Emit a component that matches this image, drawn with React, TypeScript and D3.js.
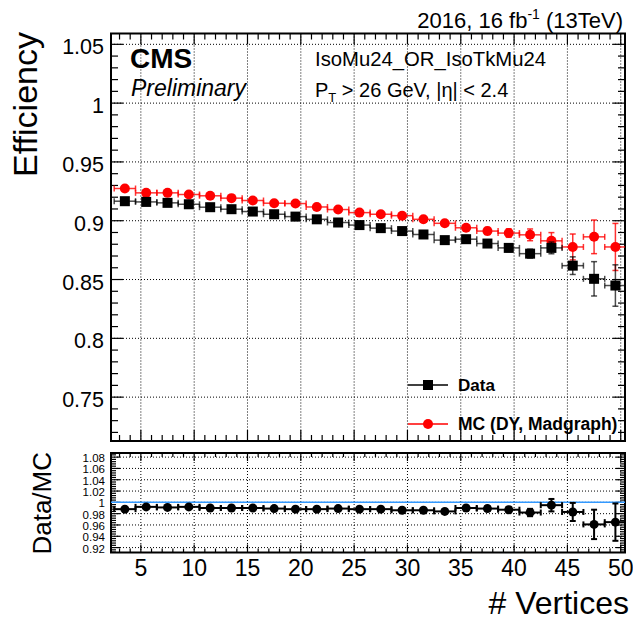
import React from 'react';
import * as d3 from 'd3';

// Number of reconstructed vertices (bin centres, bins are 2 wide)
const vertices = [3.5, 5.5, 7.5, 9.5, 11.5, 13.5, 15.5, 17.5, 19.5, 21.5, 23.5, 25.5,
  27.5, 29.5, 31.5, 33.5, 35.5, 37.5, 39.5, 41.5, 43.5, 45.5, 47.5, 49.5];
const binHalfWidth = 1;

// Trigger efficiency measured in data
const dataEff = [0.9166, 0.9160, 0.9152, 0.9140, 0.9115, 0.9098, 0.9078, 0.9055, 0.9035, 0.9012,
  0.8985, 0.8963, 0.8937, 0.8912, 0.8883, 0.8835, 0.8843, 0.8806, 0.8769, 0.8720,
  0.8769, 0.8618, 0.8506, 0.8449];
const dataErr = [0.0012, 0.0010, 0.0010, 0.0010, 0.0010, 0.0010, 0.0010, 0.0011, 0.0012, 0.0013,
  0.0014, 0.0015, 0.0016, 0.0018, 0.0020, 0.0022, 0.0025, 0.0028, 0.0032, 0.0038,
  0.0050, 0.0075, 0.0146, 0.0176];

// Trigger efficiency in simulation (DY, Madgraph)
const mcEff = [0.9274, 0.9237, 0.9237, 0.9223, 0.9212, 0.9192, 0.9172, 0.9149, 0.9146, 0.9117,
  0.9095, 0.9069, 0.9055, 0.9043, 0.9012, 0.8978, 0.8940, 0.8912, 0.8895, 0.8880,
  0.8829, 0.8777, 0.8863, 0.8777];
const mcErr = [0.0010, 0.0008, 0.0008, 0.0008, 0.0008, 0.0008, 0.0008, 0.0009, 0.0010, 0.0011,
  0.0012, 0.0013, 0.0015, 0.0017, 0.0019, 0.0022, 0.0026, 0.0030, 0.0036, 0.0050,
  0.0070, 0.0110, 0.0143, 0.0200];

// Data / MC ratio
const ratio = [0.988, 0.992, 0.991, 0.992, 0.990, 0.990, 0.990, 0.989, 0.988, 0.988,
  0.989, 0.988, 0.988, 0.986, 0.986, 0.984, 0.990, 0.989, 0.987, 0.982,
  0.995, 0.983, 0.961, 0.965];
const ratioErr = [0.0016, 0.0014, 0.0014, 0.0014, 0.0014, 0.0014, 0.0014, 0.0015, 0.0016, 0.0018,
  0.0019, 0.0021, 0.0023, 0.0026, 0.0029, 0.0033, 0.0038, 0.0043, 0.0050, 0.0065,
  0.0110, 0.0160, 0.0260, 0.0330];

const xTicks = [5, 10, 15, 20, 25, 30, 35, 40, 45, 50];
const effTicks = [0.75, 0.8, 0.85, 0.9, 0.95, 1, 1.05];
const effTickLabels = ['0.75', '0.8', '0.85', '0.9', '0.95', '1', '1.05'];
const ratioTicks = [0.92, 0.94, 0.96, 0.98, 1, 1.02, 1.04, 1.06, 1.08];
const ratioTickLabels = ['0.92', '0.94', '0.96', '0.98', '1', '1.02', '1.04', '1.06', '1.08'];

const FONT = "'Liberation Sans', Arial, Helvetica, sans-serif";
const RED = '#ff0000';
const BLUE = '#3399ff';

const W = 633;
const H = 622;
const left = 111;
const right = 625;
const mainTop = 33.5;
const mainBottom = 441;
const ratioTop = 453;
const ratioBottom = 552.5;

const x = d3.scaleLinear().domain([2.2, 50.4]).range([left, right]);
const yMain = d3.scaleLinear().domain([0.7127, 1.0592]).range([mainBottom, mainTop]);
const yRatio = d3.scaleLinear().domain([0.9113, 1.0873]).range([ratioBottom, ratioTop]);

const minorX = d3.range(3, 51, 1).filter((v) => v % 5 !== 0);

type Scale = d3.ScaleLinear<number, number>;

function Frame({ top, bottom, y, majors, minorStep, majLen, minLen, xMaj, xMin }: {
  top: number; bottom: number; y: Scale; majors: number[]; minorStep: number;
  majLen: number; minLen: number; xMaj: number; xMin: number;
}) {
  const [d0, d1] = y.domain();
  const minors = d3.range(Math.ceil(d0 / minorStep) * minorStep, d1, minorStep)
    .filter((v) => !majors.some((m) => Math.abs(m - v) < minorStep / 10));
  return (
    <g>
      {/* grid */}
      {xTicks.map((t) => (
        <line key={'gx' + t} x1={x(t)} x2={x(t)} y1={top} y2={bottom}
          stroke="#000" strokeWidth={1} strokeDasharray="1,2" />
      ))}
      {majors.map((t) => (
        <line key={'gy' + t} x1={left} x2={right} y1={y(t)} y2={y(t)}
          stroke="#000" strokeWidth={1} strokeDasharray="1,2" />
      ))}
      {/* y ticks, left and right */}
      {majors.map((t) => (
        <g key={'ty' + t}>
          <line x1={left} x2={left + majLen} y1={y(t)} y2={y(t)} stroke="#000" strokeWidth={1.2} />
          <line x1={right} x2={right - majLen} y1={y(t)} y2={y(t)} stroke="#000" strokeWidth={1.2} />
        </g>
      ))}
      {minors.map((t, i) => (
        <g key={'tyn' + i}>
          <line x1={left} x2={left + minLen} y1={y(t)} y2={y(t)} stroke="#000" strokeWidth={1.2} />
          <line x1={right} x2={right - minLen} y1={y(t)} y2={y(t)} stroke="#000" strokeWidth={1.2} />
        </g>
      ))}
      {/* x ticks, bottom and top */}
      {xTicks.map((t) => (
        <g key={'tx' + t}>
          <line x1={x(t)} x2={x(t)} y1={bottom} y2={bottom - xMaj} stroke="#000" strokeWidth={1.2} />
          <line x1={x(t)} x2={x(t)} y1={top} y2={top + xMaj} stroke="#000" strokeWidth={1.2} />
        </g>
      ))}
      {minorX.map((t) => (
        <g key={'txn' + t}>
          <line x1={x(t)} x2={x(t)} y1={bottom} y2={bottom - xMin} stroke="#000" strokeWidth={1.2} />
          <line x1={x(t)} x2={x(t)} y1={top} y2={top + xMin} stroke="#000" strokeWidth={1.2} />
        </g>
      ))}
      <rect x={left} y={top} width={right - left} height={bottom - top}
        fill="none" stroke="#000" strokeWidth={2} />
    </g>
  );
}

function ErrorBars({ values, errs, y, color, opacity, width, cap }: {
  values: number[]; errs: number[]; y: Scale; color: string; opacity: number; width: number; cap: number;
}) {
  return (
    <g stroke={color} strokeOpacity={opacity} strokeWidth={width} fill="none">
      {vertices.map((v, i) => {
        const cx = x(v);
        const cy = y(values[i]);
        const x0 = x(v - binHalfWidth);
        const x1 = Math.min(x(v + binHalfWidth), right);
        const yHi = y(values[i] + errs[i]);
        const yLo = y(values[i] - errs[i]);
        return (
          <g key={i}>
            <line x1={x0} x2={x1} y1={cy} y2={cy} />
            <line x1={x0} x2={x0} y1={cy - cap} y2={cy + cap} />
            {x(v + binHalfWidth) <= right && <line x1={x1} x2={x1} y1={cy - cap} y2={cy + cap} />}
            <line x1={cx} x2={cx} y1={yHi} y2={yLo} />
            <line x1={cx - cap} x2={cx + cap} y1={yHi} y2={yHi} />
            <line x1={cx - cap} x2={cx + cap} y1={yLo} y2={yLo} />
          </g>
        );
      })}
    </g>
  );
}

export default function App() {
  const sq = 10;
  return (
    <svg width={W} height={H} viewBox={`0 0 ${W} ${H}`}
      style={{ position: 'absolute', left: 0, top: 0, background: '#fff' }}
      fontFamily={FONT}>
      <rect x={0} y={0} width={W} height={H} fill="#fff" />

      {/* ---------- efficiency panel ---------- */}
      <Frame top={mainTop} bottom={mainBottom} y={yMain} majors={effTicks} minorStep={0.01}
        majLen={12} minLen={7} xMaj={11} xMin={6} />

      {effTicks.map((t, i) => (
        <text key={'ly' + t} x={104} y={yMain(t) + 3} fontSize={21.5} textAnchor="end"
          dominantBaseline="central">{effTickLabels[i]}</text>
      ))}

      <text transform={`translate(37,32) rotate(-90)`} fontSize={34} textAnchor="end">Efficiency</text>

      <ErrorBars values={mcEff} errs={mcErr} y={yMain} color={RED} opacity={0.8} width={1.5} cap={3} />
      {vertices.map((v, i) => (
        <circle key={'mc' + i} cx={x(v)} cy={yMain(mcEff[i])} r={5} fill={RED} />
      ))}
      <ErrorBars values={dataEff} errs={dataErr} y={yMain} color="#000" opacity={0.7} width={1.5} cap={3} />
      {vertices.map((v, i) => (
        <rect key={'d' + i} x={x(v) - sq / 2} y={yMain(dataEff[i]) - sq / 2} width={sq} height={sq} fill="#000" />
      ))}

      {/* labels inside the frame */}
      <text x={130} y={68} fontSize={28} fontWeight="bold">CMS</text>
      <text x={131} y={96} fontSize={23} fontStyle="italic">Preliminary</text>
      <text x={315} y={66} fontSize={20.3}>IsoMu24_OR_IsoTkMu24</text>
      <text x={315} y={97} fontSize={20}>
        P<tspan dy={5} fontSize={13}>T</tspan><tspan dy={-5}> &gt; 26 GeV, |η| &lt; 2.4</tspan>
      </text>

      {/* header */}
      <text x={623} y={28} fontSize={22} textAnchor="end">
        2016, 16 fb<tspan dy={-9} fontSize={14}>-1</tspan><tspan dy={9}> (13TeV)</tspan>
      </text>

      {/* legend */}
      <line x1={408} x2={448} y1={385} y2={385} stroke="#000" strokeWidth={1.5} />
      <rect x={428 - sq / 2} y={385 - sq / 2} width={sq} height={sq} fill="#000" />
      <text x={458} y={391} fontSize={17} fontWeight="bold">Data</text>
      <line x1={408} x2={448} y1={424} y2={424} stroke={RED} strokeWidth={1.5} />
      <circle cx={428} cy={424} r={5} fill={RED} />
      <text x={458} y={430} fontSize={17.5} fontWeight="bold">MC (DY, Madgraph)</text>

      {/* ---------- ratio panel ---------- */}
      <Frame top={ratioTop} bottom={ratioBottom} y={yRatio} majors={ratioTicks} minorStep={0.004}
        majLen={9} minLen={5} xMaj={8} xMin={4} />
      <line x1={left} x2={right} y1={yRatio(1)} y2={yRatio(1)} stroke={BLUE} strokeWidth={1.5} />

      {ratioTicks.map((t, i) => (
        <text key={'lr' + t} x={105} y={yRatio(t) + 1} fontSize={11.5} textAnchor="end"
          dominantBaseline="central">{ratioTickLabels[i]}</text>
      ))}
      <text transform={`translate(51,452) rotate(-90)`} fontSize={26} textAnchor="end">Data/MC</text>

      <ErrorBars values={ratio} errs={ratioErr} y={yRatio} color="#000" opacity={1} width={2} cap={3} />
      {vertices.map((v, i) => (
        <circle key={'r' + i} cx={x(v)} cy={yRatio(ratio[i])} r={4.5} fill="#000" />
      ))}

      {xTicks.map((t) => (
        <text key={'lx' + t} x={x(t)} y={576} fontSize={23} textAnchor="middle">{t}</text>
      ))}
      <text x={629} y={614} fontSize={32} textAnchor="end"># Vertices</text>
    </svg>
  );
}
